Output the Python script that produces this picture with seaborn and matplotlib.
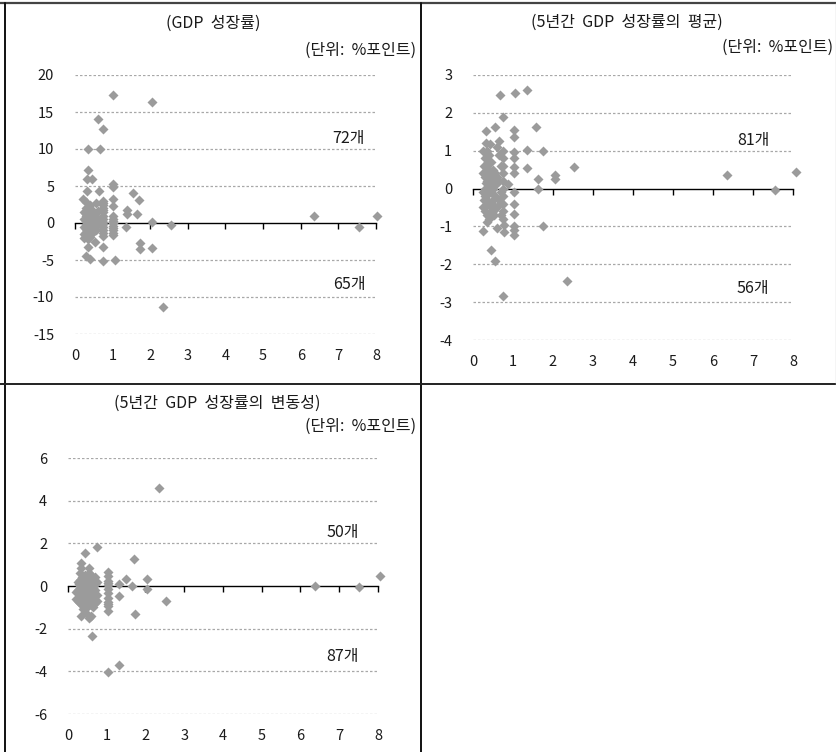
import matplotlib
matplotlib.use("Agg")
import matplotlib.pyplot as plt
import seaborn as sns
from matplotlib.lines import Line2D

sns.set_theme(style="white")
plt.rcParams["font.family"] = ["Noto Sans CJK KR", "DejaVu Sans"]
plt.rcParams["axes.unicode_minus"] = False

# ---- data -------------------------------------------------------------
titles = ["(GDP  성장률)", "(5년간  GDP  성장률의  평균)", "(5년간  GDP  성장률의  변동성)"]
unit_label = "(단위:  %포인트)"
count_labels = [("72개", "65개"), ("81개", "56개"), ("50개", "87개")]
x_ticks = [0, 1, 2, 3, 4, 5, 6, 7, 8]
y_ticks_growth = [-15, -10, -5, 0, 5, 10, 15, 20]
y_ticks_mean = [-4, -3, -2, -1, 0, 1, 2, 3]
y_ticks_vol = [-6, -4, -2, 0, 2, 4, 6]

growth_x = [1.02, 2.04, 0.62, 0.74, 0.35, 0.66, 0.35, 0.31, 0.44, 0.31, 0.64, 1.0, 1.0,
            1.55, 1.69, 0.22, 1.37, 1.37, 1.64, 1.0, 1.0, 0.55, 2.04, 2.55, 1.36, 1.73,
            1.73, 2.04, 0.34, 0.75, 0.29, 0.40, 0.74, 1.06, 0.53, 2.35, 6.34, 8.02, 7.54,
            0.25, 0.25, 0.25, 0.25, 0.25,
            0.30, 0.30, 0.30, 0.30, 0.30, 0.30,
            0.35, 0.35, 0.35, 0.35, 0.35, 0.35, 0.35,
            0.40, 0.40, 0.40, 0.40, 0.40, 0.40,
            0.45, 0.45, 0.45, 0.45, 0.45,
            0.50, 0.50, 0.50, 0.50, 0.50,
            0.55, 0.55, 0.55,
            0.60, 0.60, 0.60,
            0.75, 0.75, 0.75, 0.75, 0.75, 0.75, 0.75, 0.75, 0.75, 0.75, 0.75, 0.75, 0.75, 0.75,
            1.0, 1.0, 1.0, 1.0, 1.0, 1.0, 1.0, 1.0, 1.0,
            0.28, 0.33, 0.38, 0.42, 0.48, 0.52, 0.28, 0.33, 0.38, 0.42, 0.48, 0.52,
            0.28, 0.38, 0.48, 0.58, 0.33, 0.43]
growth_y = [17.3, 16.4, 14.0, 12.7, 10.0, 10.0, 7.2, 6.0, 6.0, 4.3, 4.3, 5.3, 4.9,
            4.0, 3.1, 3.2, 1.8, 1.2, 1.2, 3.2, 2.3, 2.7, 0.2, -0.3, -0.5, -2.7,
            -3.5, -3.4, -3.3, -3.3, -4.5, -4.8, -5.2, -5.0, -2.5, -11.4, 1.0, 1.0, -0.6,
            1.5, 0.5, -0.5, -1.5, -2.0,
            2.0, 1.2, 0.3, -0.8, -1.8, 2.8,
            1.8, 0.9, 0.0, -0.6, -1.2, -2.2, 1.4,
            1.6, 0.6, -0.3, -1.0, -1.9, 2.4,
            1.1, 0.2, -0.7, -1.4, 0.9,
            1.3, 0.4, -0.2, -1.1, 0.0,
            0.8, -0.4, -1.0,
            0.5, -0.1, 1.6,
            3.0, 2.5, 2.0, 1.5, 1.0, 0.6, 0.2, -0.2, -0.6, -1.0, -1.4, -1.7, 2.7, 1.8,
            1.0, 0.6, 0.0, -0.4, -0.7, -1.0, -1.3, -1.6, 0.3,
            0.9, 0.4, 1.0, 0.1, 0.6, -0.5, -0.2, -0.9, -0.4, -1.4, -0.9, 0.8,
            -1.2, 1.3, 1.6, 0.2, -1.6, -0.1]

mean_x = [0.68, 1.05, 1.36, 0.74, 0.33, 0.55, 1.57, 1.02, 1.02, 0.66, 0.33, 0.43, 1.34,
          1.76, 1.02, 1.02, 1.34, 1.02, 1.02, 2.53, 1.63, 2.05, 2.05, 1.63, 0.88, 6.34,
          8.07, 7.55, 1.02, 1.02, 1.02, 1.02, 1.02, 1.02, 1.76, 0.24, 0.36, 0.60, 0.77,
          0.77, 0.45, 0.55, 2.36, 0.75,
          0.25, 0.25, 0.25, 0.25,
          0.30, 0.30, 0.30, 0.30, 0.30,
          0.35, 0.35, 0.35, 0.35, 0.35,
          0.40, 0.40, 0.40, 0.40, 0.40,
          0.45, 0.45, 0.45, 0.45,
          0.50, 0.50, 0.50, 0.50,
          0.55, 0.55, 0.55,
          0.60, 0.60, 0.60,
          0.75, 0.75, 0.75, 0.75, 0.75, 0.75, 0.75, 0.75, 0.75, 0.75,
          0.28, 0.33, 0.38, 0.43, 0.48, 0.53, 0.28, 0.33, 0.38, 0.43, 0.48, 0.53,
          0.65, 0.65, 0.65, 0.70, 0.70, 0.70, 0.33, 0.43, 0.53]
mean_y = [2.48, 2.52, 2.60, 1.88, 1.52, 1.63, 1.62, 1.55, 1.37, 1.25, 1.20, 1.18, 1.02,
          1.00, 0.97, 0.80, 0.55, 0.57, 0.42, 0.58, 0.25, 0.37, 0.25, 0.00, 0.12, 0.35,
          0.44, -0.05, -0.10, -0.40, -0.67, -1.00, -1.10, -1.23, -0.98, -1.12, -0.88, -1.05, -0.95,
          -1.15, -1.63, -1.90, -2.45, -2.85,
          1.0, 0.4, -0.1, -0.5,
          0.8, 0.3, -0.2, -0.6, 0.0,
          0.6, 0.2, -0.3, -0.7, 1.0,
          0.9, 0.5, 0.1, -0.4, -0.8,
          0.7, 0.3, -0.1, -0.5,
          0.5, 0.0, -0.3, -0.6,
          0.4, 0.1, -0.2,
          1.1, 0.3, -0.5,
          1.0, 0.8, 0.6, 0.4, 0.2, 0.0, -0.2, -0.4, -0.6, -0.8,
          0.6, 0.45, 0.7, 0.3, 0.15, 0.25, -0.3, -0.45, -0.15, -0.65, -0.4, -0.7,
          0.9, 0.2, -0.3, 0.6, -0.1, -0.7, 0.15, 0.05, -0.45]

vol_x = [2.36, 0.74, 0.44, 1.70, 0.33, 0.33, 0.55, 0.55, 1.50, 1.32, 1.64, 2.03, 2.03,
         1.32, 2.53, 1.72, 0.33, 0.61, 1.32, 1.02, 6.37, 7.51, 8.05,
         1.02, 1.02, 1.02, 1.02, 1.02, 1.02, 1.02, 1.02, 1.02, 1.02,
         0.20, 0.20,
         0.25, 0.25, 0.25,
         0.30, 0.30, 0.30, 0.30, 0.30,
         0.35, 0.35, 0.35, 0.35,
         0.40, 0.40, 0.40, 0.40,
         0.45, 0.45, 0.45,
         0.50, 0.50, 0.50, 0.50, 0.50,
         0.55, 0.55, 0.55, 0.55,
         0.60, 0.60, 0.60, 0.60,
         0.65, 0.65, 0.65, 0.65,
         0.70, 0.70, 0.70, 0.70,
         0.75, 0.75, 0.75,
         0.28, 0.38, 0.48, 0.58, 0.68, 0.28, 0.38, 0.48, 0.58, 0.68, 1.02, 1.02]
vol_y = [4.59, 1.85, 1.53, 1.28, 1.06, 0.83, 0.83, 0.59, 0.33, 0.10, 0.02, 0.33, -0.15,
         -0.45, -0.69, -1.31, -1.41, -2.35, -3.68, -4.05, 0.00, -0.05, 0.47,
         0.67, 0.45, 0.25, 0.05, -0.15, -0.35, -0.55, -0.75, -0.95, -1.15,
         -0.3, -0.6,
         0.2, -0.2, -0.7,
         0.6, 0.3, 0.0, -0.4, -0.8,
         0.4, -0.1, -0.5, -0.9,
         0.2, -0.3, -0.7, -1.1,
         0.5, 0.0, -0.4,
         0.3, -0.2, -0.6, -1.0, -1.3,
         0.1, -0.5, -0.9, -1.5,
         0.5, 0.0, -0.3, -1.4,
         0.3, -0.1, -0.5, -1.0,
         0.4, 0.1, -0.2, -0.8,
         0.2, -0.4, -0.7,
         0.1, 0.05, 0.15, 0.25, -0.35, -0.55, -0.85, -0.8, -0.7, -0.6, -0.85, 0.15]

# ---- layout (pixel geometry of the figure) ------------------------------
W, H = 837, 752
fig = plt.figure(figsize=(W / 100, H / 100), dpi=100)
fig.patch.set_facecolor("white")


def fx(px):
    return px / W


def fy(py):
    return 1 - py / H


def make_axes(left, top, right, bottom):
    return fig.add_axes([fx(left), fy(bottom), (right - left) / W, (bottom - top) / H])


MARK = "#9b9b9b"
GRID = "#a8a8a8"
INK = "#1a1a1a"
FS_TICK = 10.5
FS_TEXT = 11.5
WEIGHT = "light"

panels = [
    dict(box=(75, 75, 376, 334), x=growth_x, y=growth_y, yt=y_ticks_growth,
         title=(213, 23), unit=(416, 50), counts=((349, 139), (349, 284))),
    dict(box=(473, 75, 793, 340), x=mean_x, y=mean_y, yt=y_ticks_mean,
         title=(627, 22), unit=(833, 47), counts=((753, 140), (753, 288))),
    dict(box=(68, 458, 378, 714), x=vol_x, y=vol_y, yt=y_ticks_vol,
         title=(217, 403), unit=(416, 426), counts=((343, 533), (343, 657))),
]

for i, p in enumerate(panels):
    ax = make_axes(*p["box"])
    ax.set_facecolor("none")
    yt = p["yt"]
    ax.set_xlim(0, 8)
    ax.set_ylim(yt[0], yt[-1])

    for y in yt:
        if y != 0:
            ax.axhline(y, color=GRID, lw=0.9, ls=(0, (2.0, 1.6)), zorder=1)

    sns.scatterplot(x=p["x"], y=p["y"], ax=ax, marker="D", color=MARK, s=26,
                    linewidth=0, zorder=3, clip_on=False, legend=False)

    for side in ("top", "right", "left"):
        ax.spines[side].set_visible(False)
    ax.spines["bottom"].set_position(("data", 0))
    ax.spines["bottom"].set_color("black")
    ax.spines["bottom"].set_linewidth(1.0)
    ax.spines["bottom"].set_zorder(2)
    ax.set_xticks(x_ticks)
    ax.tick_params(axis="x", direction="out", length=4, width=1.0, color="black",
                   labelbottom=False, bottom=True)
    ax.set_yticks(yt)
    ax.set_yticklabels([str(v) for v in yt], fontweight=WEIGHT)
    ax.tick_params(axis="y", length=0, pad=15, labelsize=FS_TICK, labelcolor=INK)

    sec = ax.secondary_xaxis(0)
    sec.set_xticks(x_ticks)
    sec.set_xticklabels([str(v) for v in x_ticks], fontweight=WEIGHT)
    sec.tick_params(length=0, pad=11, labelsize=FS_TICK, labelcolor=INK)
    for s in sec.spines.values():
        s.set_visible(False)

    tx, ty = p["title"]
    fig.text(fx(tx), fy(ty), titles[i], ha="center", va="center", fontsize=FS_TEXT,
             color=INK, fontweight=WEIGHT)
    ux, uy = p["unit"]
    fig.text(fx(ux), fy(uy), unit_label, ha="right", va="center", fontsize=FS_TEXT,
             color=INK, fontweight=WEIGHT)
    (ax1, ay1), (ax2, ay2) = p["counts"]
    fig.text(fx(ax1), fy(ay1), count_labels[i][0], ha="center", va="center",
             fontsize=FS_TEXT, color=INK, fontweight=WEIGHT)
    fig.text(fx(ax2), fy(ay2), count_labels[i][1], ha="center", va="center",
             fontsize=FS_TEXT, color=INK, fontweight=WEIGHT)

# ---- table frame ----------------------------------------------------------
frame = [
    ((0, W), (3, 3), "#444444", 1.6),
    ((5, 5), (3, H), "#111111", 1.4),
    ((421, 421), (3, H), "#111111", 1.4),
    ((0, W), (384, 384), "#222222", 1.4),
    ((836, 836), (3, 384), "#cccccc", 1.0),
]
for (x0, x1), (y0, y1), c, lw in frame:
    fig.add_artist(Line2D([fx(x0), fx(x1)], [fy(y0), fy(y1)], color=c, lw=lw,
                          transform=fig.transFigure))

fig.savefig("out.png", dpi=100, facecolor="white")
